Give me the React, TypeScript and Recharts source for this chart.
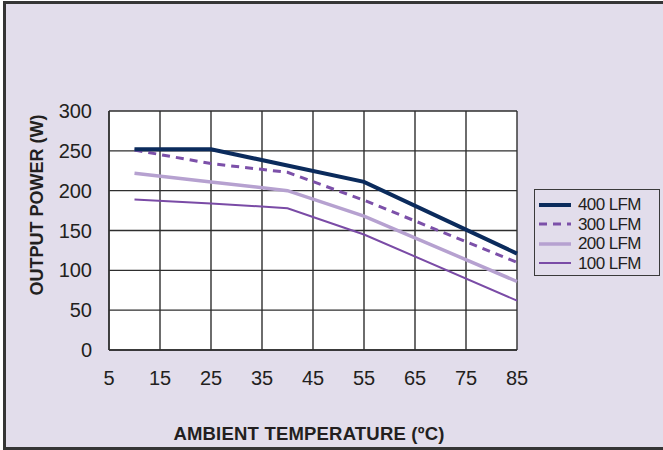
import React from 'react';
import { LineChart, Line, XAxis, YAxis, CartesianGrid, Legend, Label } from 'recharts';

// temperature (ºC) break points for each airflow curve
const temps = [10, 25, 40, 55, 85];
const temps400 = [10, 25, 55, 85];

// output power (W)
const power400 = [252, 252, 211, 121];
const power300 = [251, 234, 223, 188, 110];
const power200 = [222, 211, 200, 168, 86];
const power100 = [189, 184, 178, 145, 62];

const xTicks = [5, 15, 25, 35, 45, 55, 65, 75, 85];
const yTicks = [0, 50, 100, 150, 200, 250, 300];
const seriesOrder = ['400 LFM', '300 LFM', '200 LFM', '100 LFM'];

const toPoints = (xs: number[], ys: number[]) => xs.map((x, i) => ({ x, y: ys[i] }));

const FONT = '"Liberation Sans", Arial, Helvetica, sans-serif';
const INK = '#231f20';

const LegendBox = (props: any) => {
  const items = [...(props.payload || [])].sort(
    (a: any, b: any) => seriesOrder.indexOf(a.value) - seriesOrder.indexOf(b.value)
  );
  return (
    <div
      style={{
        width: 126,
        height: 87,
        boxSizing: 'border-box',
        border: '1.5px solid #3a3a3a',
        padding: '5px 0 0 3px',
        fontFamily: FONT,
      }}
    >
      {items.map((item: any) => (
        <div key={item.value} style={{ display: 'flex', alignItems: 'center', height: 19.5 }}>
          <svg width={36} height={10}>
            <line
              x1={1}
              x2={33}
              y1={5}
              y2={5}
              stroke={item.color}
              strokeWidth={item.payload?.strokeWidth}
              strokeDasharray={item.payload?.strokeDasharray}
            />
          </svg>
          <span style={{ fontSize: 17, letterSpacing: -0.6, color: INK, marginLeft: 4, lineHeight: '19px' }}>
            {item.value}
          </span>
        </div>
      ))}
    </div>
  );
};

export default function App() {
  return (
    <div style={{ position: 'absolute', left: 0, top: 0, width: 663, height: 450, overflow: 'hidden', background: '#fff' }}>
      <div
        style={{
          position: 'absolute',
          left: 3,
          top: 1,
          width: 680,
          height: 449,
          boxSizing: 'border-box',
          border: '3px solid #353535',
          background: '#e2ddeb',
        }}
      />
      <div style={{ position: 'absolute', left: 0, top: 0 }}>
        <LineChart width={663} height={450} margin={{ top: 111, right: 146, bottom: 70, left: 0 }}>
          <CartesianGrid stroke="#2e2e2e" strokeWidth={1.4} fill="#ffffff" fillOpacity={1} />
          <XAxis
            type="number"
            dataKey="x"
            domain={[5, 85]}
            ticks={xTicks}
            interval={0}
            height={30}
            axisLine={{ stroke: '#2e2e2e', strokeWidth: 1.4 }}
            tickLine={false}
            tickSize={0}
            tickMargin={21}
            tick={{ fontSize: 20, fill: INK, fontFamily: FONT }}
          >
            <Label
              content={() => (
                <text
                  x={309}
                  y={433}
                  textAnchor="middle"
                  dominantBaseline="central"
                  style={{ fontSize: 18.5, fontWeight: 700, fill: INK, fontFamily: FONT, letterSpacing: 0.2 }}
                >
                  AMBIENT TEMPERATURE (ºC)
                </text>
              )}
            />
          </XAxis>
          <YAxis
            type="number"
            domain={[0, 300]}
            ticks={yTicks}
            interval={0}
            width={109}
            axisLine={{ stroke: '#2e2e2e', strokeWidth: 1.4 }}
            tickLine={false}
            tickSize={0}
            tickMargin={17}
            tick={{ fontSize: 20, fill: INK, fontFamily: FONT }}
          >
            <Label
              content={() => (
                <text
                  x={37}
                  y={205}
                  transform="rotate(-90 37 205)"
                  textAnchor="middle"
                  dominantBaseline="central"
                  style={{ fontSize: 18, fontWeight: 700, fill: INK, fontFamily: FONT }}
                >
                  OUTPUT POWER (W)
                </text>
              )}
            />
          </YAxis>
          <Legend
            layout="vertical"
            align="center"
            verticalAlign="middle"
            content={<LegendBox />}
            wrapperStyle={{ left: 534, top: 189, width: 126 }}
          />
          <Line
            data={toPoints(temps, power100)}
            dataKey="y"
            name="100 LFM"
            stroke="#7a4ba6"
            strokeWidth={2}
            dot={false}
            isAnimationActive={false}
          />
          <Line
            data={toPoints(temps, power200)}
            dataKey="y"
            name="200 LFM"
            stroke="#b6a1d0"
            strokeWidth={3.5}
            dot={false}
            isAnimationActive={false}
          />
          <Line
            data={toPoints(temps, power300)}
            dataKey="y"
            name="300 LFM"
            stroke="#7c50a9"
            strokeWidth={3}
            strokeDasharray="8 6"
            dot={false}
            isAnimationActive={false}
          />
          <Line
            data={toPoints(temps400, power400)}
            dataKey="y"
            name="400 LFM"
            stroke="#0b2b5c"
            strokeWidth={4}
            dot={false}
            isAnimationActive={false}
          />
        </LineChart>
      </div>
    </div>
  );
}
